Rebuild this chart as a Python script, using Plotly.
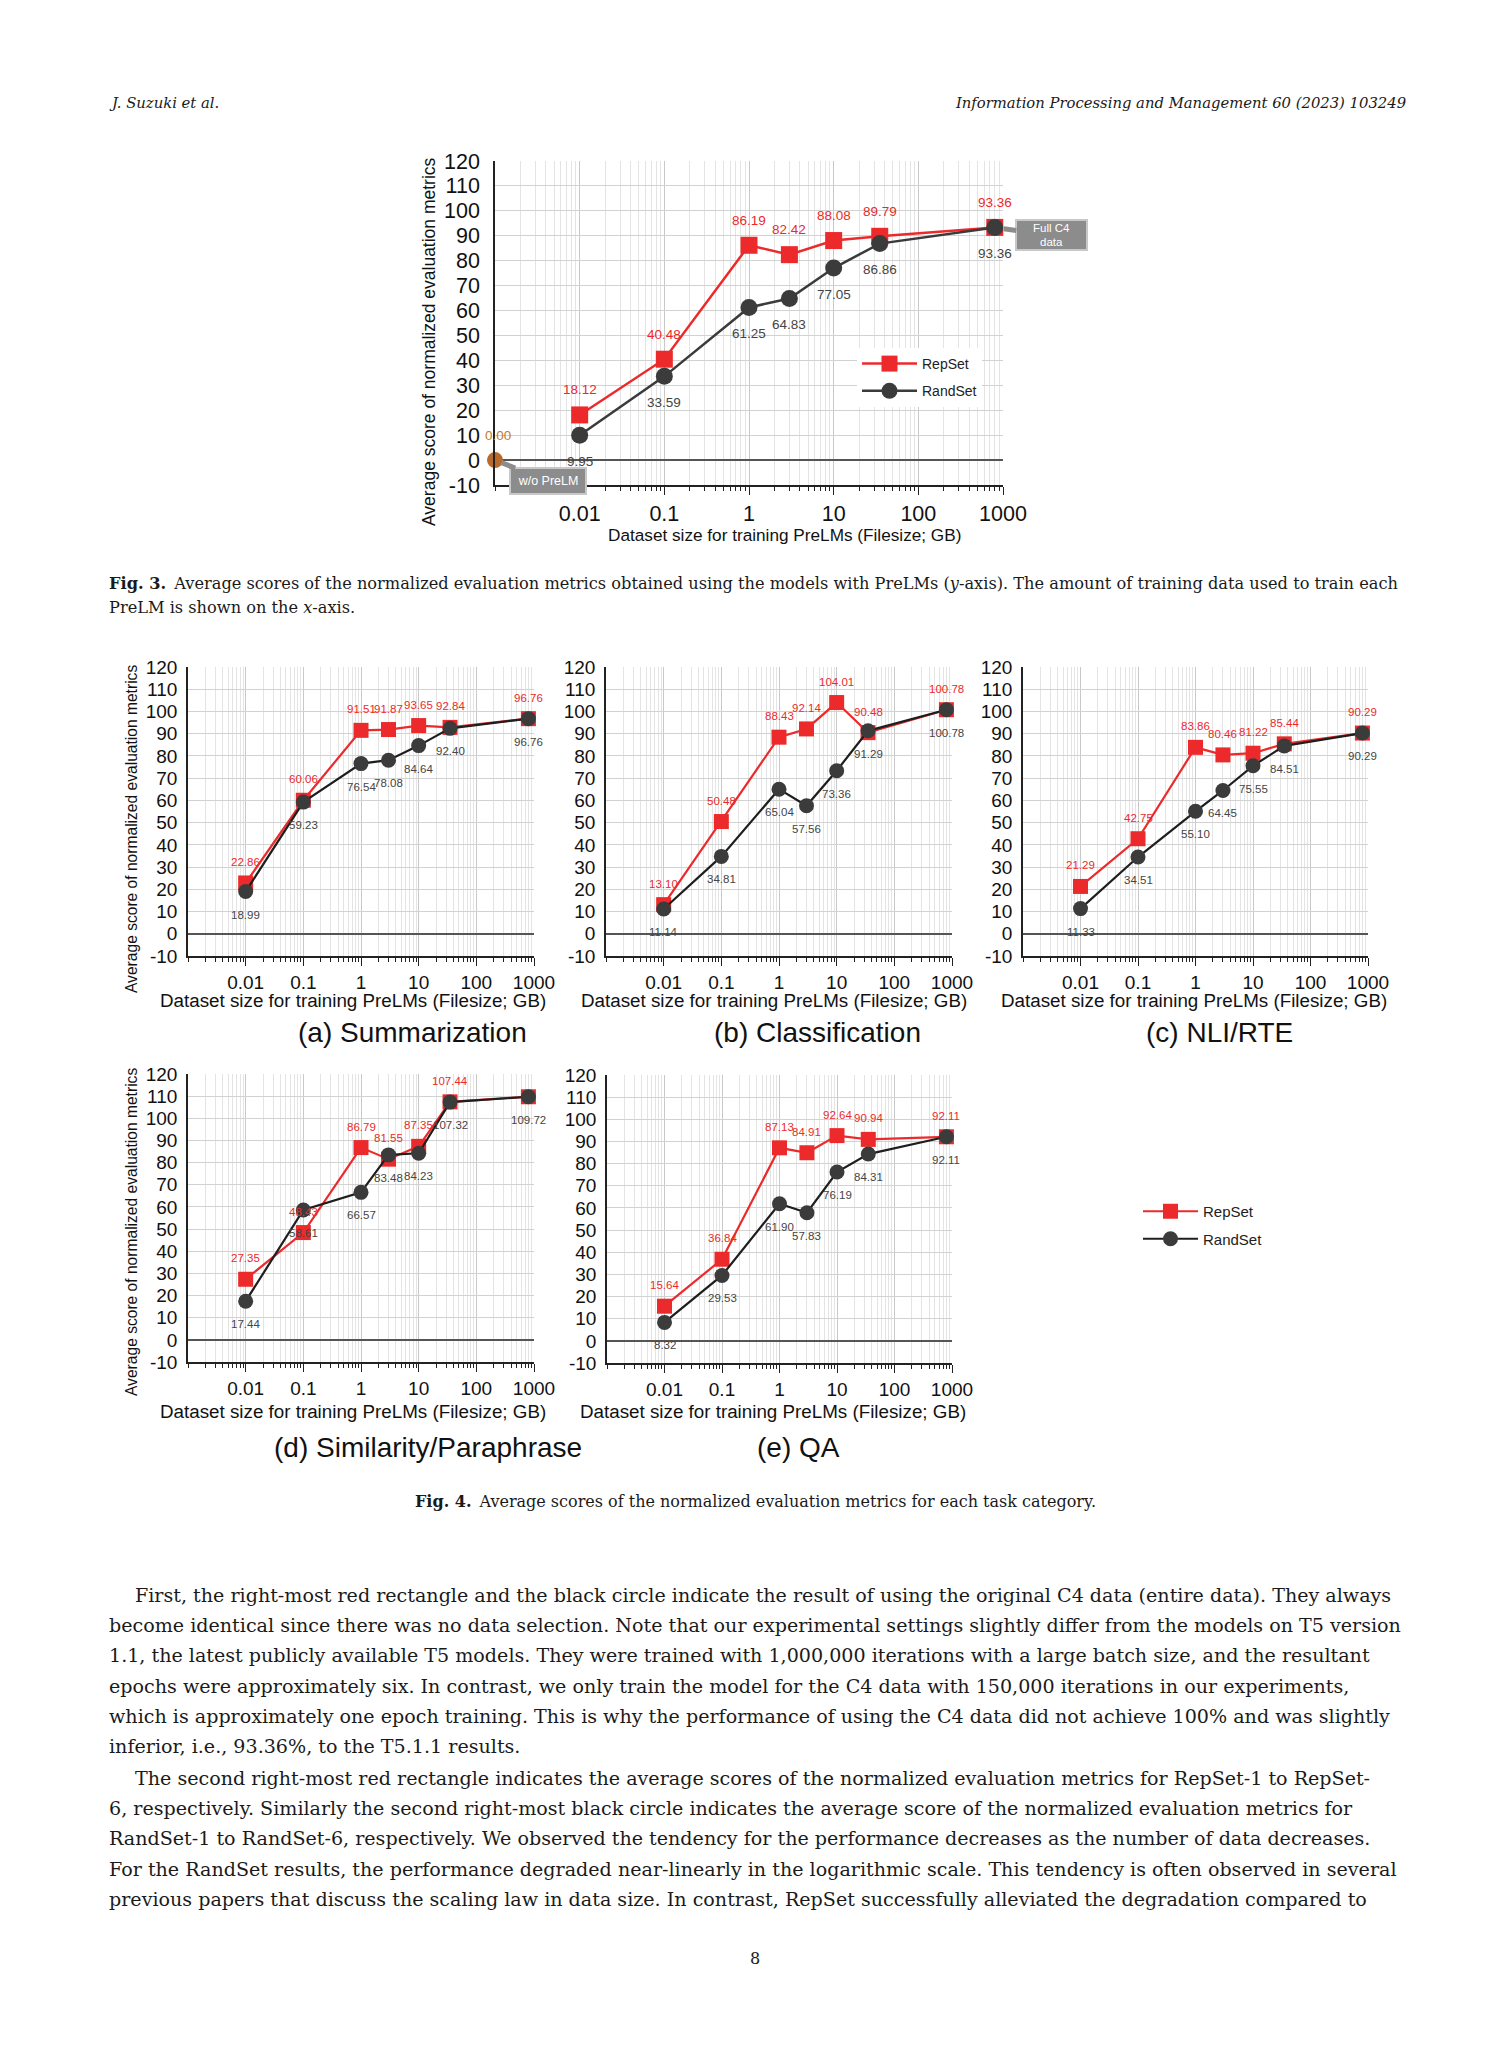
import math
import plotly.graph_objects as go

W, H = 1512, 2063

# ---------------- data ----------------
SIZES_GB = [0.01, 0.1, 1, 3, 10, 35, 800]
NO_PRELM_SIZE = [0.001]
NO_PRELM_SCORE = [0.00]

FIG3_REPSET = [18.12, 40.48, 86.19, 82.42, 88.08, 89.79, 93.36]
FIG3_RANDSET = [9.95, 33.59, 61.25, 64.83, 77.05, 86.86, 93.36]

SUMM_REPSET = [22.86, 60.06, 91.51, 91.87, 93.65, 92.84, 96.76]
SUMM_RANDSET = [18.99, 59.23, 76.54, 78.08, 84.64, 92.40, 96.76]
CLS_REPSET = [13.10, 50.48, 88.43, 92.14, 104.01, 90.48, 100.78]
CLS_RANDSET = [11.14, 34.81, 65.04, 57.56, 73.36, 91.29, 100.78]
NLI_REPSET = [21.29, 42.75, 83.86, 80.46, 81.22, 85.44, 90.29]
NLI_RANDSET = [11.33, 34.51, 55.10, 64.45, 75.55, 84.51, 90.29]
SIM_REPSET = [27.35, 48.43, 86.79, 81.55, 87.35, 107.44, 109.72]
SIM_RANDSET = [17.44, 58.61, 66.57, 83.48, 84.23, 107.32, 109.72]
QA_REPSET = [15.64, 36.84, 87.13, 84.91, 92.64, 90.94, 92.11]
QA_RANDSET = [8.32, 29.53, 61.90, 57.83, 76.19, 84.31, 92.11]

# which RepSet value labels are printed (last one of Similarity is hidden)
SIM_REPSET_LABEL_SHOWN = [True, True, True, True, True, True, False]

X_TICK_VALS = [0.01, 0.1, 1, 10, 100, 1000]
X_TICK_TEXT = ["0.01", "0.1", "1", "10", "100", "1000"]
Y_TICK_VALS = [-10, 0, 10, 20, 30, 40, 50, 60, 70, 80, 90, 100, 110, 120]
Y_TICK_TEXT = ["-10", "0", "10", "20", "30", "40", "50", "60", "70", "80", "90", "100", "110", "120"]

PANEL_TITLES = ["(a) Summarization", "(b) Classification", "(c) NLI/RTE",
                "(d) Similarity/Paraphrase", "(e) QA"]
X_TITLE = "Dataset size for training PreLMs (Filesize; GB)"
Y_TITLE = "Average score of normalized evaluation metrics"

# ---------------- styles ----------------
RED = "#ec2a2b"
DARK = "#3b3b3b"
ORANGE = "#b86a2c"
SANS = "Liberation Sans, Arial, Helvetica, sans-serif"
SERIF = "DejaVu Serif, serif"


def px_x(p):
    return p / W


def px_y(p):
    return 1 - p / H


panels = [
    dict(rep=FIG3_REPSET, rand=FIG3_RANDSET, box=(495, 1003, 161, 485), big=True,
         mask=[True] * 7),
    dict(rep=SUMM_REPSET, rand=SUMM_RANDSET, box=(188, 534, 667, 956), big=False,
         mask=[True] * 7),
    dict(rep=CLS_REPSET, rand=CLS_RANDSET, box=(606, 952, 667, 956), big=False,
         mask=[True] * 7),
    dict(rep=NLI_REPSET, rand=NLI_RANDSET, box=(1023, 1368, 667, 956), big=False,
         mask=[True] * 7),
    dict(rep=SIM_REPSET, rand=SIM_RANDSET, box=(188, 534, 1074, 1362), big=False,
         mask=SIM_REPSET_LABEL_SHOWN),
    dict(rep=QA_REPSET, rand=QA_RANDSET, box=(607, 952, 1075, 1363), big=False,
         mask=[True] * 7),
]

fig = go.Figure()
layout = {}
annotations = []
N = len(panels)

for i, p in enumerate(panels, start=1):
    xa = "x" if i == 1 else f"x{i}"
    ya = "y" if i == 1 else f"y{i}"
    xkey = "xaxis" if i == 1 else f"xaxis{i}"
    ykey = "yaxis" if i == 1 else f"yaxis{i}"
    x0, x1, y0, y1 = p["box"]
    big = p["big"]
    tfont = dict(family=SANS, size=21.5 if big else 19, color="#111")
    tl = 8

    layout[xkey] = dict(
        type="log", range=[-3, 3], domain=[px_x(x0), px_x(x1)], anchor=ya,
        tickmode="array", tickvals=X_TICK_VALS, ticktext=X_TICK_TEXT,
        ticks="outside", ticklen=tl, tickwidth=1.3, tickcolor="#222",
        showline=True, linecolor="#222", linewidth=1.6,
        showgrid=True, gridcolor="#c9c9c9", gridwidth=1.2,
        minor=dict(dtick="D1", showgrid=True, gridcolor="#e4e4e4", gridwidth=1,
                   ticks="outside", ticklen=4, tickwidth=1, tickcolor="#222"),
        tickfont=tfont, zeroline=False, fixedrange=True, automargin=False,
    )
    # overlay axis so that the ticks cross the axis line
    layout[f"xaxis{i + N}"] = dict(
        type="log", range=[-3, 3], overlaying=xa, anchor=ya, side="bottom",
        tickmode="array", tickvals=X_TICK_VALS, showticklabels=False,
        ticks="inside", ticklen=tl, tickwidth=1.3, tickcolor="#222",
        showgrid=False, showline=False, zeroline=False,
        minor=dict(dtick="D1", showgrid=False, ticks="inside", ticklen=4,
                   tickwidth=1, tickcolor="#222"),
        fixedrange=True, automargin=False,
    )
    layout[ykey] = dict(
        range=[-10, 120], domain=[px_y(y1), px_y(y0)], anchor=xa,
        tickmode="array", tickvals=Y_TICK_VALS, ticktext=Y_TICK_TEXT,
        ticks="outside", ticklen=9 if big else 5, tickcolor="rgba(0,0,0,0)",
        showline=True, linecolor="#222", linewidth=1.6,
        showgrid=True, gridcolor="#d2d2d2", gridwidth=1.2,
        zeroline=True, zerolinecolor="#555", zerolinewidth=1.6,
        tickfont=tfont, fixedrange=True, automargin=False,
    )

    ms_sq = 17 if big else 15
    ms_ci = 17 if big else 15
    lw = 2.5 if big else 2.2

    fig.add_trace(go.Scatter(
        x=SIZES_GB, y=p["rep"], mode="lines+markers", xaxis=xa, yaxis=ya,
        name="RepSet", line=dict(color=RED, width=lw),
        marker=dict(symbol="square", size=ms_sq, color=RED),
        showlegend=(i == 1 or i == 2), legend="legend" if i == 1 else "legend2",
        legendgroup="rep", cliponaxis=False,
    ))
    fig.add_trace(go.Scatter(
        x=SIZES_GB, y=p["rand"], mode="lines+markers", xaxis=xa, yaxis=ya,
        name="RandSet", line=dict(color=DARK if i == 1 else "#1e1e1e", width=lw),
        marker=dict(symbol="circle", size=ms_ci, color=DARK),
        showlegend=(i == 1 or i == 2), legend="legend" if i == 1 else "legend2",
        legendgroup="rand", cliponaxis=False,
    ))

    fs = 13.5 if big else 11.5
    lfont_r = dict(family=SANS, size=fs, color=RED)
    lfont_k = dict(family=SANS, size=fs, color="#444")
    up = 25 if big else 21
    dn = -26 if big else -23
    for xv, v, show in zip(SIZES_GB, p["rep"], p["mask"]):
        if show:
            annotations.append(dict(x=math.log10(xv), y=v, xref=xa, yref=ya,
                                    xanchor="center", yanchor="middle",
                                    text=f"{v:.2f}", showarrow=False, yshift=up,
                                    font=lfont_r))
    for xv, v in zip(SIZES_GB, p["rand"]):
        annotations.append(dict(x=math.log10(xv), y=v, xref=xa, yref=ya,
                                xanchor="center", yanchor="middle",
                                text=f"{v:.2f}", showarrow=False, yshift=dn,
                                font=lfont_k))

# w/o PreLM point in Fig. 3
fig.add_trace(go.Scatter(
    x=NO_PRELM_SIZE, y=NO_PRELM_SCORE, mode="markers", xaxis="x", yaxis="y",
    marker=dict(symbol="circle", size=16, color=ORANGE), showlegend=False,
    cliponaxis=False,
))
annotations.append(dict(x=math.log10(NO_PRELM_SIZE[0]), y=NO_PRELM_SCORE[0],
                        xref="x", yref="y", text=f"{NO_PRELM_SCORE[0]:.2f}",
                        xanchor="center", yanchor="middle",
                        showarrow=False, xshift=3, yshift=25,
                        font=dict(family=SANS, size=13.5, color="#c07a30")))
annotations.append(dict(x=math.log10(NO_PRELM_SIZE[0]), y=NO_PRELM_SCORE[0],
                        xref="x", yref="y", text="w/o PreLM", showarrow=True,
                        ax=53, ay=21, arrowhead=0, arrowwidth=5, arrowcolor="#8c8c8c",
                        standoff=7, bgcolor="#8c8c8c", bordercolor="#c8c8c8",
                        borderwidth=2, borderpad=2, width=70, height=20,
                        font=dict(family=SANS, size=12.5, color="white")))
annotations.append(dict(x=math.log10(SIZES_GB[-1]), y=FIG3_REPSET[-1],
                        xref="x", yref="y", text="Full C4<br>data", showarrow=True,
                        ax=57, ay=8, arrowhead=0, arrowwidth=5, arrowcolor="#8c8c8c",
                        standoff=9, bgcolor="#8c8c8c", bordercolor="#c8c8c8",
                        borderwidth=2, borderpad=2, width=65, height=24,
                        font=dict(family=SANS, size=11.5, color="white")))


def paper_text(txt, x, y, size, family=SANS, angle=0, anchor="center",
               italic=False, color="#111"):
    annotations.append(dict(x=px_x(x), y=px_y(y), xref="paper", yref="paper",
                            text=txt, showarrow=False, xanchor=anchor, yanchor="middle",
                            textangle=angle,
                            font=dict(family=family, size=size, color=color,
                                      style="italic" if italic else "normal")))


# axis titles and panel titles
paper_text(X_TITLE, 784, 535, 17.2)
paper_text(Y_TITLE, 429, 342, 17.5, angle=-90)
for (cx, cy) in [(353, 1000), (774, 1000), (1194, 1000), (353, 1411), (773, 1411)]:
    paper_text(X_TITLE, cx, cy, 18.8)
for (cx, cy) in [(131, 829), (131, 1232)]:
    paper_text(Y_TITLE, cx, cy, 15.6, angle=-90)
for t, (cx, cy) in zip(PANEL_TITLES, [(412, 1032), (817, 1032), (1219, 1032),
                                      (428, 1447), (798, 1447)]):
    paper_text(t, cx, cy, 28)

# ---------------- page text ----------------
INK = "#1a1a1a"
paper_text("J. Suzuki et al.", 107, 103, 14.8, family=SERIF, anchor="left",
           italic=True, color=INK)
paper_text("Information Processing and Management 60 (2023) 103249", 1408, 103, 14.8,
           family=SERIF, anchor="right", italic=True, color=INK)

paper_text("<b>Fig. 3.</b>\u2002Average scores of the normalized evaluation metrics obtained using "
           "the models with PreLMs (<i>y</i>-axis). The amount of training data used to train each",
           107, 584, 16.2, family=SERIF, anchor="left", color=INK)
paper_text("PreLM is shown on the <i>x</i>-axis.", 107, 607, 16.2, family=SERIF,
           anchor="left", color=INK)
paper_text("<b>Fig. 4.</b>\u2002Average scores of the normalized evaluation metrics for each task category.",
           755, 1501, 16, family=SERIF, anchor="center", color=INK)

body = [
    (133, 1595, "First, the right-most red rectangle and the black circle indicate the result of using the original C4 data (entire data). They always"),
    (107, 1625, "become identical since there was no data selection. Note that our experimental settings slightly differ from the models on T5 version"),
    (107, 1655, "1.1, the latest publicly available T5 models. They were trained with 1,000,000 iterations with a large batch size, and the resultant"),
    (107, 1686, "epochs were approximately six. In contrast, we only train the model for the C4 data with 150,000 iterations in our experiments,"),
    (107, 1716, "which is approximately one epoch training. This is why the performance of using the C4 data did not achieve 100% and was slightly"),
    (107, 1746, "inferior, i.e., 93.36%, to the T5.1.1 results."),
    (133, 1778, "The second right-most red rectangle indicates the average scores of the normalized evaluation metrics for RepSet-1 to RepSet-"),
    (107, 1808, "6, respectively. Similarly the second right-most black circle indicates the average score of the normalized evaluation metrics for"),
    (107, 1838, "RandSet-1 to RandSet-6, respectively. We observed the tendency for the performance decreases as the number of data decreases."),
    (107, 1869, "For the RandSet results, the performance degraded near-linearly in the logarithmic scale. This tendency is often observed in several"),
    (107, 1899, "previous papers that discuss the scaling law in data size. In contrast, RepSet successfully alleviated the degradation compared to"),
]
for x, y, t in body:
    paper_text(t, x, y, 19.1, family=SERIF, anchor="left", color=INK)
paper_text("8", 755, 1958, 16, family=SERIF, color=INK)

layout.update(
    width=W, height=H, autosize=False,
    margin=dict(l=0, r=0, t=0, b=0, pad=0, autoexpand=False),
    paper_bgcolor="white", plot_bgcolor="white",
    annotations=annotations,
    legend=dict(x=px_x(857), y=px_y(348), xanchor="left", yanchor="top",
                bgcolor="white", borderwidth=0, traceorder="grouped",
                tracegroupgap=6, itemwidth=55,
                font=dict(family=SANS, size=14, color="#222")),
    legend2=dict(x=px_x(1138), y=px_y(1195), xanchor="left", yanchor="top",
                 bgcolor="rgba(255,255,255,0)", borderwidth=0, traceorder="grouped",
                 tracegroupgap=5, itemwidth=55,
                 font=dict(family=SANS, size=15, color="#222")),
)
fig.update_layout(**layout)

fig.write_html("out.html", config={"displayModeBar": False},
               post_script="document.body.style.margin='0';document.body.style.overflow='hidden';")
